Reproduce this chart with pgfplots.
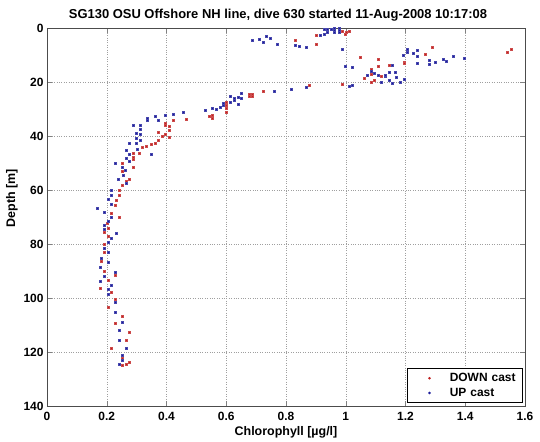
\documentclass[border=0pt]{standalone}
\usepackage{pgfplots}
\pgfplotsset{compat=1.18}
\usetikzlibrary{calc}
\usepackage{fontspec}
\setmainfont{Liberation Sans}
\definecolor{mred}{rgb}{0.75,0.12,0.12}
\definecolor{mblue}{rgb}{0.1,0.1,0.6}
\begin{document}
\begin{tikzpicture}
\begin{axis}[
  scale only axis, width=478bp, height=378bp,
  xmin=0, xmax=1.6, ymin=0, ymax=140, y dir=reverse,
  xtick={0,0.2,...,1.6}, ytick={0,20,...,140},
  tick align=inside, major tick length=5bp,
  grid=major, major grid style={dotted, gray!75, line width=0.5pt},
  axis line style={line width=0.8pt, black!70},
  /pgf/number format/assume math mode=true,
  ticklabel style={font=\fontsize{12}{14}\selectfont\bfseries},
  xticklabel style={yshift=-3bp},
  title={\fontsize{13}{15}\selectfont\bfseries SG130 OSU Offshore NH line, dive 630 started 11-Aug-2008 10:17:08},
  title style={yshift=-3bp, xshift=-8bp},
  xlabel={\fontsize{12.5}{14}\selectfont\bfseries Chlorophyll [µg/l]},
  ylabel={\fontsize{12.5}{14}\selectfont\bfseries Depth [m]},
  xlabel style={yshift=1bp},
  ylabel style={at={(ticklabel cs:0.55)}, yshift=-1bp},
  legend style={at={(0.996,0.009)}, anchor=south east, draw=black, line width=0.6pt,
    font=\fontsize{12}{14}\selectfont\bfseries, inner xsep=0bp, inner ysep=2.5bp,
    row sep=1bp, text width=71bp},
  legend cell align=left,
  legend image code/.code={\path (0bp,0bp) (40bp,0bp); \fill[#1] (22bp,0bp) circle (1bp);},
]
\addplot[only marks, mark=square*, mark size=1bp, color=mred, mark options={draw=mred!80, fill=mred}] coordinates {
(0.830,4.7) (0.902,2.8) (0.902,5.9) (0.987,1.0) (0.998,2.2) (1.000,1.6) (1.011,1.0)
(1.047,10.9) (0.988,20.7) (1.061,18.6) (1.109,11.6) (1.109,14.3) (1.084,15.3) (1.084,16.2)
(1.084,17.2) (1.119,17.8) (1.096,19.3) (1.084,19.9) (1.145,13.7) (1.194,12.5) (1.194,13.1)
(1.265,9.7) (1.289,7.2) (1.541,8.8) (1.554,7.9) (0.877,21.2) (0.724,23.3) (0.687,24.4)
(0.677,24.4) (0.687,25.2) (0.677,25.2) (0.601,27.3) (0.601,28.5) (0.601,29.7) (0.601,31.0)
(0.543,32.6) (0.554,32.2) (0.554,33.4) (0.467,33.7) (0.422,34.3) (0.397,35.3) (0.397,35.9)
(0.409,36.5) (0.409,37.8) (0.372,38.6) (0.397,39.3) (0.384,40.0) (0.409,40.5) (0.372,41.5)
(0.361,42.5) (0.348,43.1) (0.331,43.7) (0.320,44.3) (0.309,46.4) (0.287,46.4) (0.287,47.7)
(0.287,48.6) (0.253,50.1) (0.287,51.4) (0.253,53.2) (0.275,55.9) (0.264,56.9) (0.252,58.4)
(0.241,60.0) (0.240,61.9) (0.230,63.7) (0.227,65.6) (0.216,68.6) (0.240,70.1) (0.203,72.3)
(0.205,74.2) (0.192,75.8) (0.205,77.0) (0.192,80.0) (0.192,83.2) (0.181,86.5) (0.192,89.9)
(0.227,91.7) (0.205,93.3) (0.178,96.2) (0.216,97.7) (0.227,100.5) (0.205,103.5) (0.252,106.7)
(0.227,109.4) (0.275,112.5) (0.264,115.6) (0.214,118.6) (0.252,122.4) (0.275,123.6)
(0.252,124.8) (0.264,124.6)
};
\addlegendentry{DOWN cast}
\addplot[only marks, mark=square*, mark size=1bp, color=mblue, mark options={draw=mblue!80, fill=mblue}] coordinates {
(0.687,4.7) (0.710,4.1) (0.724,5.4) (0.735,3.0) (0.746,3.8) (0.770,5.9) (0.830,6.4)
(0.843,6.9) (0.868,7.2) (0.915,2.6) (0.927,2.2) (0.938,1.7) (0.927,0.5) (0.938,0.3)
(0.950,0.3) (0.963,0.2) (0.963,0.8) (0.963,1.4) (0.977,0.2) (0.977,0.8) (0.977,1.5)
(0.987,7.7) (0.999,14.1) (1.022,14.7) (1.013,21.7) (1.022,21.2) (1.072,17.5) (1.084,16.0)
(1.095,16.8) (1.108,17.4) (1.131,17.8) (1.131,17.3) (1.119,20.2) (1.156,13.7) (1.145,16.2)
(1.167,16.4) (1.145,19.5) (1.156,20.5) (1.169,18.3) (1.181,19.9) (1.194,19.0) (1.192,9.9)
(1.205,7.9) (1.205,9.1) (1.227,9.4) (1.240,8.1) (1.240,10.3) (1.240,13.0) (1.278,11.9)
(1.278,13.3) (1.301,12.5) (1.325,11.5) (1.337,12.2) (1.361,10.6) (1.398,11.1)
(0.866,22.0) (0.818,22.6) (0.759,23.3) (0.651,24.0) (0.640,25.7) (0.651,26.0) (0.614,25.2)
(0.628,26.0) (0.628,26.9) (0.640,28.1) (0.614,27.3) (0.590,28.5) (0.590,27.9) (0.579,29.4)
(0.565,30.1) (0.554,29.7) (0.528,30.4) (0.456,31.2) (0.422,31.9) (0.397,32.2) (0.361,32.8)
(0.372,34.1) (0.335,33.5) (0.335,34.3) (0.311,35.9) (0.289,36.0) (0.311,37.5) (0.300,39.0)
(0.313,39.4) (0.300,40.9) (0.313,41.5) (0.300,42.5) (0.275,42.7) (0.302,44.9) (0.264,45.4)
(0.348,46.7) (0.275,46.7) (0.264,48.3) (0.275,49.5) (0.227,50.1) (0.253,51.4) (0.261,52.8)
(0.255,54.4) (0.238,55.9) (0.264,57.3) (0.214,60.0) (0.216,61.9) (0.205,63.5) (0.214,65.2)
(0.168,66.8) (0.192,68.3) (0.215,69.9) (0.205,71.5) (0.192,73.0) (0.192,74.6) (0.230,76.0)
(0.216,77.9) (0.205,79.5) (0.192,81.6) (0.205,83.2) (0.181,85.1) (0.205,86.9) (0.178,88.6)
(0.227,90.4) (0.192,92.1) (0.178,93.6) (0.216,95.2) (0.205,96.7) (0.205,98.5) (0.227,101.7)
(0.227,105.1) (0.252,108.8) (0.241,111.9) (0.241,115.6) (0.264,118.6) (0.252,121.1)
(0.252,123.0) (0.241,124.4)
};
\addlegendentry{UP cast}
\end{axis}
\path[use as bounding box] ($(current axis.south west)+(-47bp,-36bp)$) rectangle ($(current axis.north east)+(15bp,28bp)$);
\end{tikzpicture}
\end{document}
